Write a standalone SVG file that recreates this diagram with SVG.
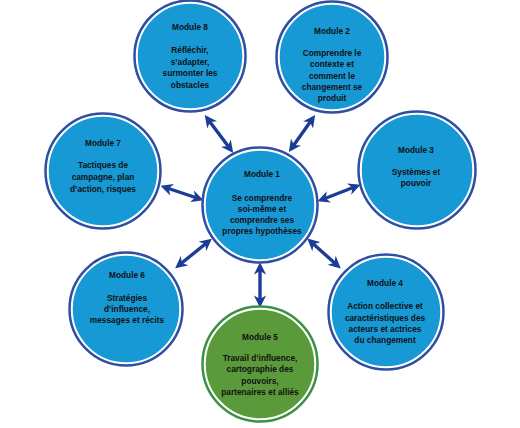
<svg xmlns="http://www.w3.org/2000/svg" width="520" height="428" viewBox="0 0 520 428">
<defs>
<style>
.fill-b{fill:#1799d6;stroke:#ffffff;stroke-width:1.5}
.ring-b{fill:none;stroke:#2d4ea2;stroke-width:2.5}
.fill-g{fill:#5b9a3b;stroke:#ffffff;stroke-width:1.5}
.ring-g{fill:none;stroke:#3a9046;stroke-width:2.5}
text{font-family:"Liberation Sans",Arial,sans-serif;font-size:8.3px;font-weight:bold;fill:#111111;text-anchor:middle}
.conn{stroke:#1b3c97;stroke-width:3.4;fill:none;marker-start:url(#ah);marker-end:url(#ah)}
</style>
<marker id="ah" viewBox="0 0 10 10" refX="7" refY="5" markerWidth="3.6" markerHeight="3.6" orient="auto-start-reverse" markerUnits="strokeWidth">
<path d="M0,0 L10,5 L0,10 L3,5 Z" fill="#1b3c97"/>
</marker>
</defs>
<rect width="520" height="428" fill="#ffffff"/>
<g id="connectors">
<line class="conn" x1="231" y1="150" x2="207" y2="118"/>
<line class="conn" x1="291" y1="149" x2="313" y2="118"/>
<line class="conn" x1="200" y1="199" x2="164" y2="187"/>
<line class="conn" x1="321" y1="200" x2="357" y2="186"/>
<line class="conn" x1="209" y1="241" x2="178" y2="266"/>
<line class="conn" x1="310" y1="241" x2="338" y2="266"/>
<line class="conn" x1="260" y1="266" x2="260" y2="304"/>
</g>
<g id="module8">
<circle class="fill-b" cx="190" cy="56" r="53"/>
<circle class="ring-b" cx="190" cy="56" r="55.5"/>
<text x="190" y="30">Module 8</text>
<text x="190" y="53">Réfléchir,</text>
<text x="190" y="64.5">s’adapter,</text>
<text x="190" y="76">surmonter les</text>
<text x="190" y="87.5">obstacles</text>
</g>
<g id="module2">
<circle class="fill-b" cx="332" cy="57" r="53"/>
<circle class="ring-b" cx="332" cy="57" r="55.5"/>
<text x="332" y="34">Module 2</text>
<text x="332" y="56">Comprendre le</text>
<text x="332" y="67">contexte et</text>
<text x="332" y="78.5">comment le</text>
<text x="332" y="89.5">changement se</text>
<text x="332" y="100.5">produit</text>
</g>
<g id="module7">
<circle class="fill-b" cx="103" cy="171" r="55"/>
<circle class="ring-b" cx="103" cy="171" r="57.5"/>
<text x="103" y="146">Module 7</text>
<text x="103" y="168">Tactiques de</text>
<text x="103" y="180">campagne, plan</text>
<text x="103" y="191.5">d’action, risques</text>
</g>
<g id="module1">
<circle class="fill-b" cx="260" cy="205" r="55"/>
<circle class="ring-b" cx="260" cy="205" r="57.5"/>
<text x="262" y="177">Module 1</text>
<text x="262" y="201">Se comprendre</text>
<text x="262" y="212">soi-même et</text>
<text x="262" y="223">comprendre ses</text>
<text x="262" y="234">propres hypothèses</text>
</g>
<g id="module3">
<circle class="fill-b" cx="417" cy="170" r="56"/>
<circle class="ring-b" cx="417" cy="170" r="58.5"/>
<text x="416" y="153">Module 3</text>
<text x="416" y="175">Systèmes et</text>
<text x="416" y="186">pouvoir</text>
</g>
<g id="module6">
<circle class="fill-b" cx="126" cy="309" r="54"/>
<circle class="ring-b" cx="126" cy="309" r="56.5"/>
<text x="127" y="278">Module 6</text>
<text x="127" y="301">Stratégies</text>
<text x="127" y="312">d’influence,</text>
<text x="127" y="323">messages et récits</text>
</g>
<g id="module4">
<circle class="fill-b" cx="386" cy="312" r="55"/>
<circle class="ring-b" cx="386" cy="312" r="57.5"/>
<text x="385" y="286">Module 4</text>
<text x="385" y="309">Action collective et</text>
<text x="385" y="321">caractéristiques des</text>
<text x="385" y="332">acteurs et actrices</text>
<text x="385" y="343">du changement</text>
</g>
<g id="module5">
<circle class="fill-g" cx="260" cy="364" r="55"/>
<circle class="ring-g" cx="260" cy="364" r="57.5"/>
<text x="260" y="340">Module 5</text>
<text x="260" y="361">Travail d’influence,</text>
<text x="260" y="372">cartographie des</text>
<text x="260" y="384">pouvoirs,</text>
<text x="260" y="395">partenaires et alliés</text>
</g>
</svg>
